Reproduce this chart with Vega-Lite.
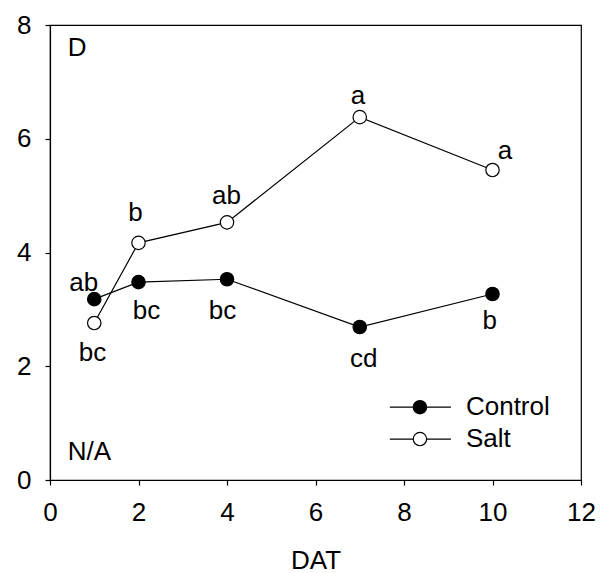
{
  "$schema": "https://vega.github.io/schema/vega-lite/v6.json",
  "width": 531,
  "height": 455,
  "autosize": {"type": "none"},
  "padding": {"left": 50, "top": 25, "right": 25, "bottom": 93},
  "background": "white",
  "config": {
    "view": {"stroke": "black", "strokeWidth": 1.2},
    "font": "Liberation Sans",
    "axis": {"grid": false, "domainColor": "black", "tickColor": "black", "labelColor": "black", "titleColor": "black", "labelFont": "Liberation Sans", "titleFont": "Liberation Sans", "labelFontSize": 26, "titleFontSize": 26, "titleFontWeight": "normal", "tickSize": 5, "domainWidth": 1.2, "tickWidth": 1.2, "format": "d", "labelFlush": false}
  },
  "datasets": {
    "series": [
      {"DAT": 1, "value": 3.18, "group": "Control"},
      {"DAT": 2, "value": 3.48, "group": "Control"},
      {"DAT": 4, "value": 3.53, "group": "Control"},
      {"DAT": 7, "value": 2.69, "group": "Control"},
      {"DAT": 10, "value": 3.27, "group": "Control"},
      {"DAT": 1, "value": 2.76, "group": "Salt"},
      {"DAT": 2, "value": 4.17, "group": "Salt"},
      {"DAT": 4, "value": 4.53, "group": "Salt"},
      {"DAT": 7, "value": 6.38, "group": "Salt"},
      {"DAT": 10, "value": 5.45, "group": "Salt"}
    ],
    "labels": [
      {"x": 0.76, "y": 3.46, "text": "ab"},
      {"x": 2.18, "y": 2.97, "text": "bc"},
      {"x": 3.9, "y": 2.97, "text": "bc"},
      {"x": 7.09, "y": 2.13, "text": "cd"},
      {"x": 9.94, "y": 2.79, "text": "b"},
      {"x": 0.96, "y": 2.23, "text": "bc"},
      {"x": 1.93, "y": 4.69, "text": "b"},
      {"x": 3.99, "y": 4.99, "text": "ab"},
      {"x": 6.96, "y": 6.75, "text": "a"},
      {"x": 10.28, "y": 5.78, "text": "a"}
    ],
    "legend": [
      {"x1": 7.68, "x2": 9.06, "xm": 8.36, "xt": 9.4, "y": 1.28, "group": "Control"},
      {"x1": 7.68, "x2": 9.06, "xm": 8.36, "xt": 9.4, "y": 0.72, "group": "Salt"}
    ],
    "notes": [
      {"x": 0.4, "y": 7.6, "text": "D"},
      {"x": 0.4, "y": 0.49, "text": "N/A"}
    ]
  },
  "layer": [
    {
      "data": {"name": "series"},
      "mark": {"type": "line", "color": "black", "strokeWidth": 1.2},
      "encoding": {
        "x": {"field": "DAT", "type": "quantitative", "scale": {"domain": [0, 12], "nice": false}, "axis": {"values": [0, 2, 4, 6, 8, 10, 12], "title": "DAT", "labelPadding": 14, "titlePadding": 22}},
        "y": {"field": "value", "type": "quantitative", "scale": {"domain": [0, 8], "nice": false}, "axis": {"values": [0, 2, 4, 6, 8], "title": null, "labelPadding": 14}},
        "detail": {"field": "group"}
      }
    },
    {
      "data": {"name": "series"},
      "mark": {"type": "point", "shape": "circle", "size": 180, "stroke": "black", "strokeWidth": 1.2, "opacity": 1},
      "encoding": {
        "x": {"field": "DAT", "type": "quantitative"},
        "y": {"field": "value", "type": "quantitative"},
        "fill": {"field": "group", "type": "nominal", "scale": {"domain": ["Control", "Salt"], "range": ["black", "white"]}, "legend": null}
      }
    },
    {
      "data": {"name": "labels"},
      "mark": {"type": "text", "fontSize": 26, "color": "black", "baseline": "middle", "align": "center"},
      "encoding": {
        "x": {"field": "x", "type": "quantitative"},
        "y": {"field": "y", "type": "quantitative"},
        "text": {"field": "text"}
      }
    },
    {
      "data": {"name": "notes"},
      "mark": {"type": "text", "fontSize": 26, "color": "black", "baseline": "middle", "align": "left"},
      "encoding": {
        "x": {"field": "x", "type": "quantitative"},
        "y": {"field": "y", "type": "quantitative"},
        "text": {"field": "text"}
      }
    },
    {
      "data": {"name": "legend"},
      "mark": {"type": "rule", "color": "black", "strokeWidth": 1.2},
      "encoding": {
        "x": {"field": "x1", "type": "quantitative"},
        "x2": {"field": "x2"},
        "y": {"field": "y", "type": "quantitative"}
      }
    },
    {
      "data": {"name": "legend"},
      "mark": {"type": "point", "shape": "circle", "size": 180, "stroke": "black", "strokeWidth": 1.2, "opacity": 1},
      "encoding": {
        "x": {"field": "xm", "type": "quantitative"},
        "y": {"field": "y", "type": "quantitative"},
        "fill": {"field": "group", "type": "nominal", "legend": null}
      }
    },
    {
      "data": {"name": "legend"},
      "mark": {"type": "text", "fontSize": 26, "color": "black", "baseline": "middle", "align": "left"},
      "encoding": {
        "x": {"field": "xt", "type": "quantitative"},
        "y": {"field": "y", "type": "quantitative"},
        "text": {"field": "group"}
      }
    }
  ]
}
